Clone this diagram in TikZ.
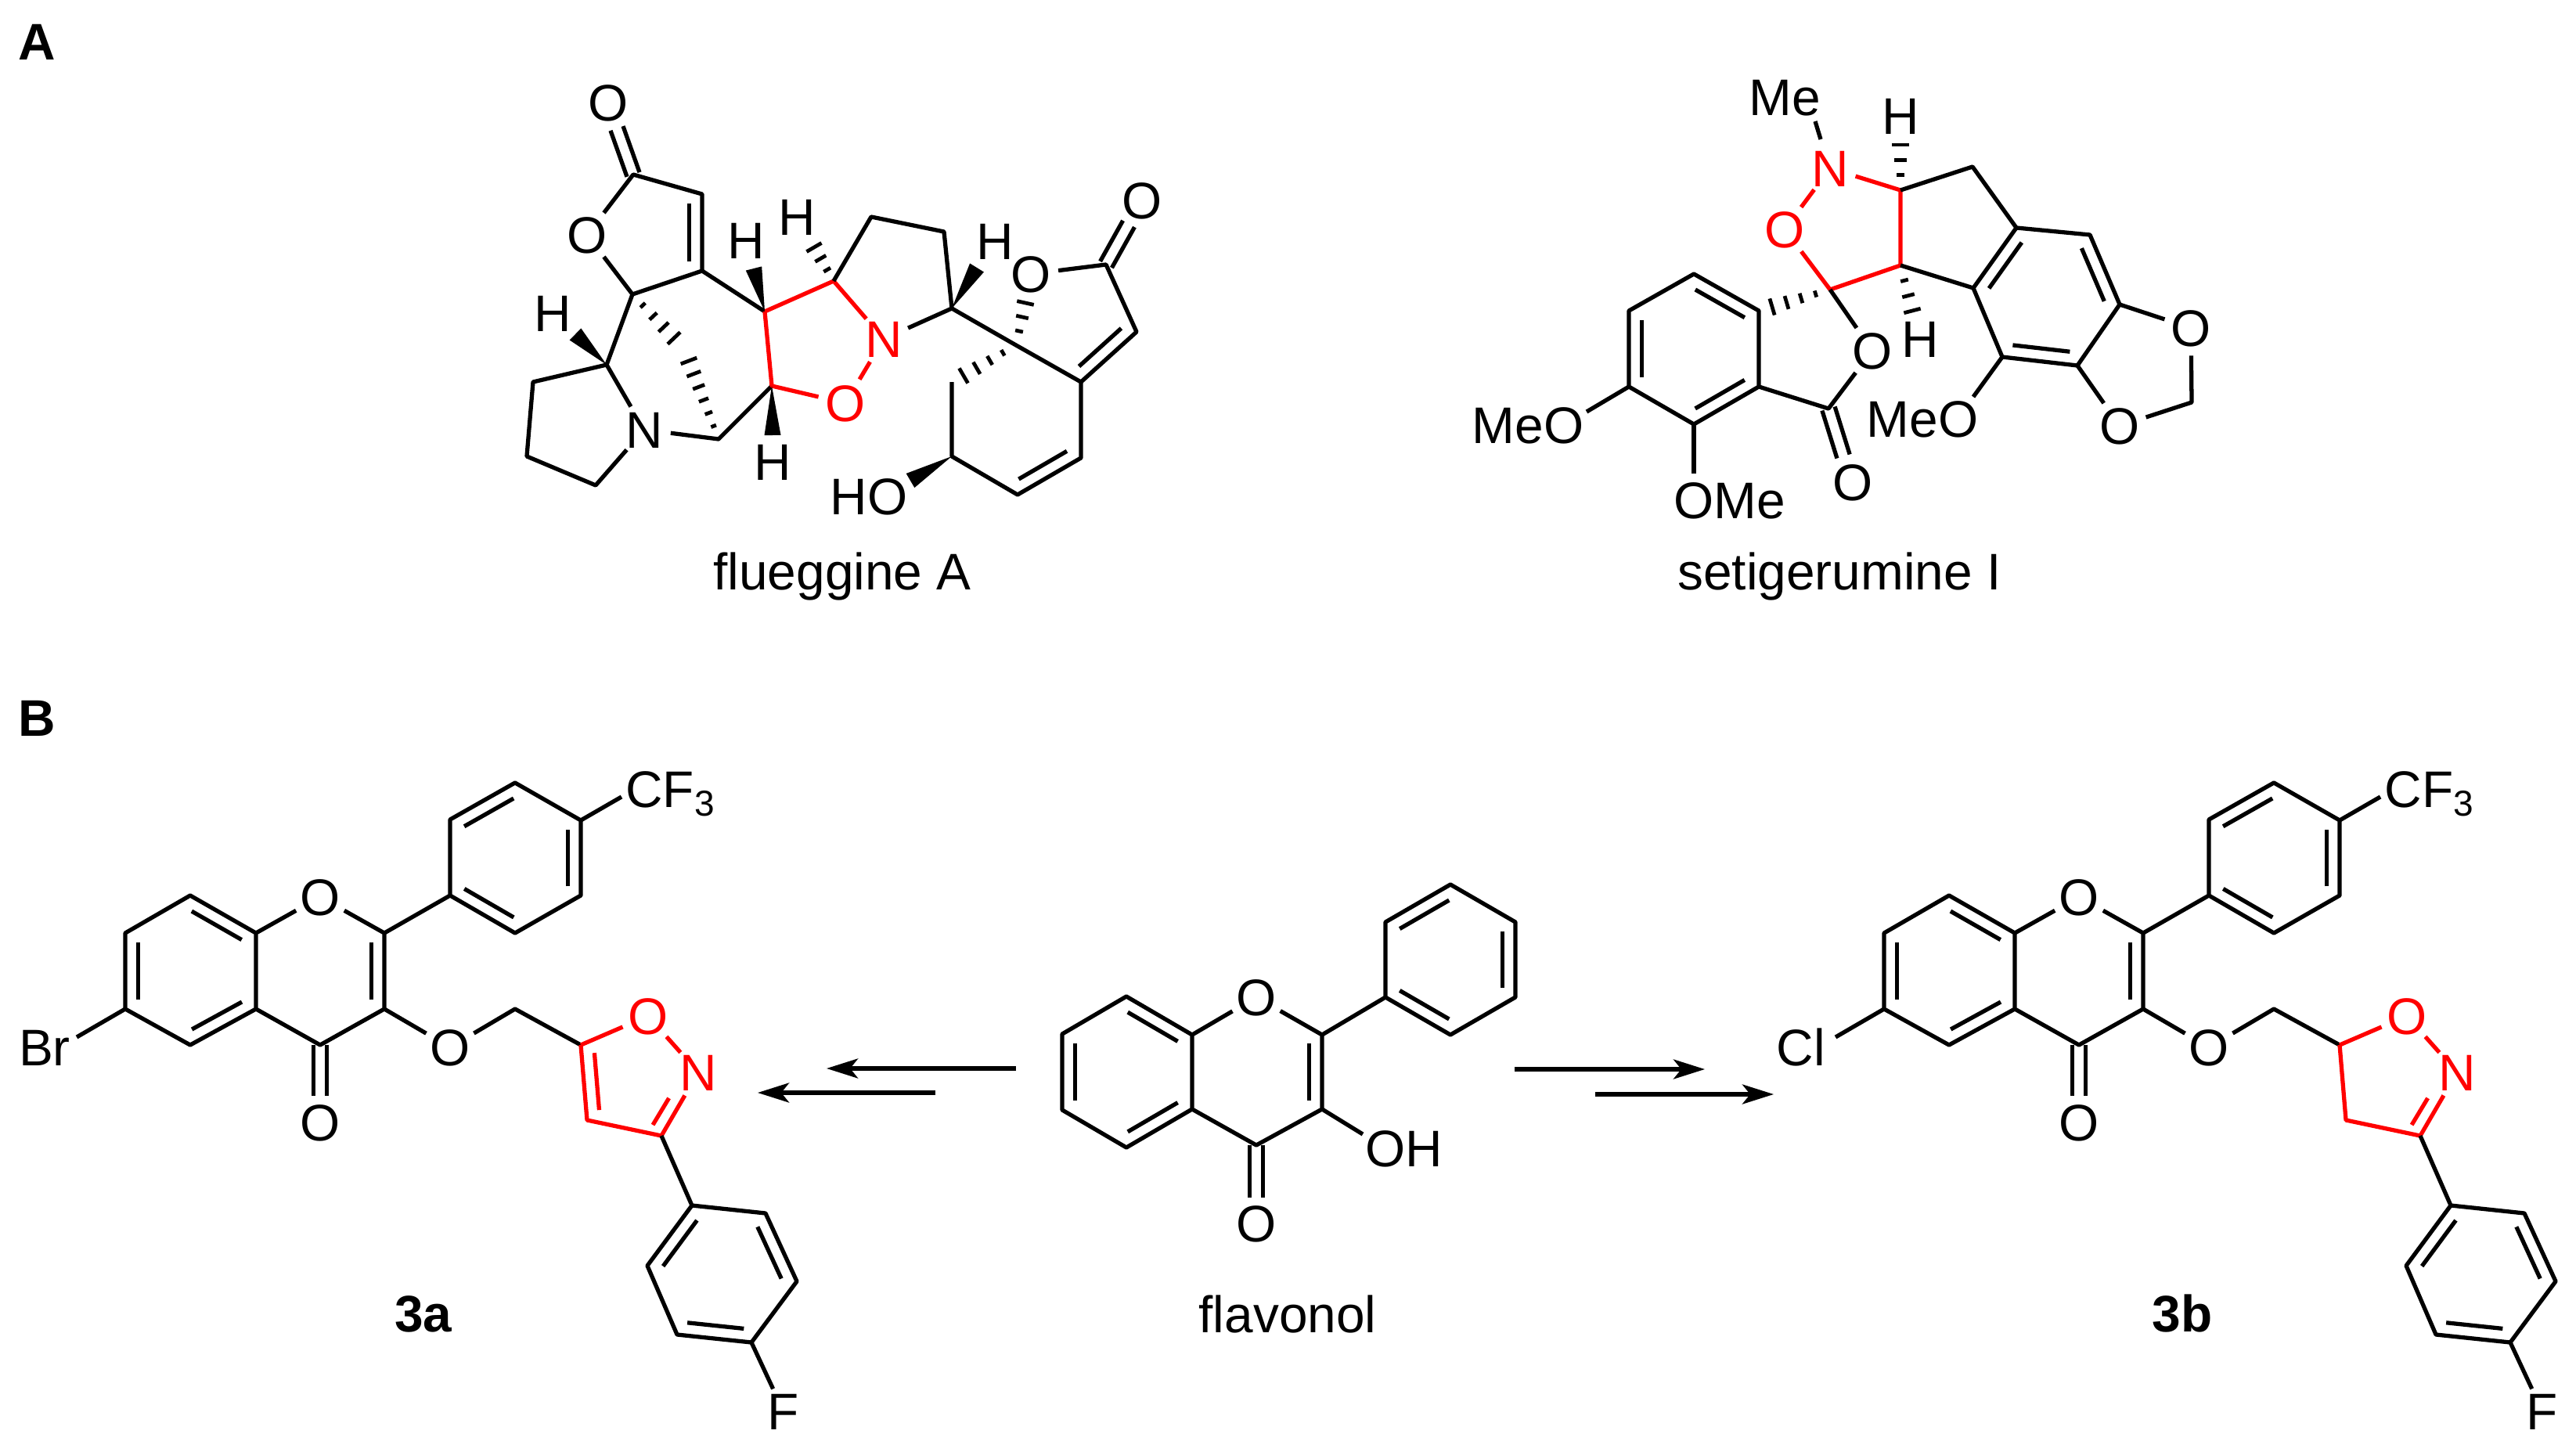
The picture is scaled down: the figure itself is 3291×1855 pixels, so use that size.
\documentclass[tikz,border=0pt]{standalone}
\usepackage{fontspec}
\setmainfont{Liberation Sans}
\usepackage{tikz}
\usetikzlibrary{calc,arrows.meta}
\tikzstyle{bond} = [line width=1.5pt, line join=round]
\tikzstyle{redbond} = [bond, red]
\tikzstyle{hashstroke} = [line width=1.35pt]
\tikzstyle{atom} = [circle, inner sep=0pt, text height=13.4pt, text depth=0pt]
\tikzstyle{redatom} = [atom, text=red]
\tikzstyle{lbl} = [inner sep=0pt, text height=13.4pt, text depth=0pt]
\tikzstyle{capname} = [inner sep=0pt, anchor=base]
\tikzstyle{arrow} = [line width=1.5pt, -{Stealth[length=.4cm,width=.25cm,inset=.1cm]}]
\newcommand{\innerbond}[3][black]{%
  \draw[bond, #1] ($(#2)!.12!(#3)!.165cm!90:(#3)$) -- ($(#3)!.12!(#2)!.165cm!-90:(#2)$);}
\newcommand{\twobond}[2]{%
  \draw[bond] ($(#1)!.085cm!90:(#2)$) -- ($(#2)!.085cm!-90:(#1)$);
  \draw[bond] ($(#1)!.085cm!-90:(#2)$) -- ($(#2)!.085cm!90:(#1)$);}
\newcommand{\wedgebond}[2]{%
  \fill (#1) -- ($(#2)!.105cm!90:(#1)$) -- ($(#2)!.105cm!-90:(#1)$) -- cycle;}
\newcommand{\hashbond}[3]{%
  \foreach \i in {1,...,#3} {
    \pgfmathsetmacro\hfrac{\i/#3}
    \pgfmathsetmacro\hlen{.02+.09*\hfrac}
    \coordinate (hc) at ($(#1)!\hfrac!(#2)$);
    \draw[hashstroke] ($(hc)!\hlen cm!90:(#1)$) -- ($(hc)!\hlen cm!-90:(#1)$);
  }}
\begin{document}
\begin{tikzpicture}[x=0.01cm, y=-0.01cm, every node/.style={font=\fontsize{18.7}{22}\selectfont}]
    \useasboundingbox (0,0) rectangle (3291,1855);
    \node[capname] (panelA) at (47,77) {\textbf{A}};
    \node[capname] (panelB) at (47,940) {\textbf{B}};

    % flueggine A
    \node[atom] (flOa) at (777,131) {O};
    \node[atom] (flOb) at (750,300) {O};
    \node[atom] (flNa) at (823,549) {N};
    \node[redatom] (flNb) at (1129,433) {N};
    \node[redatom] (flOc) at (1080,515) {O};
    \node[atom] (flOd) at (1317,350) {O};
    \node[atom] (flOe) at (1459,256) {O};
    \node[atom] (flHa) at (706,400) {H};
    \node[atom] (flHb) at (953,307) {H};
    \node[atom] (flHc) at (1018,277) {H};
    \node[atom] (flHd) at (1271,308) {H};
    \node[atom] (flHe) at (987,590) {H};
    \node[lbl] (flHO) at (1110,634) {HO};
    \node[capname] (flName) at (1076,753) {flueggine A};
    \coordinate (fl1) at (809,223);
    \coordinate (fl2) at (897,248);
    \coordinate (fl3) at (897,346);
    \coordinate (fl4) at (808,376);
    \coordinate (fl5) at (775,466);
    \coordinate (fl6) at (681,488);
    \coordinate (fl7) at (673,583);
    \coordinate (fl8) at (761,620);
    \coordinate (fl9) at (918,561);
    \coordinate (fl10) at (986,493);
    \coordinate (fl11) at (977,398);
    \coordinate (fl12) at (1065,359);
    \coordinate (fl13) at (1113,277);
    \coordinate (fl14) at (1206,296);
    \coordinate (fl15) at (1216,394);
    \coordinate (fl16) at (1298,441);
    \coordinate (fl17) at (1381,488);
    \coordinate (fl18) at (1452,424);
    \coordinate (fl19) at (1413,338);
    \coordinate (fl20) at (1381,585);
    \coordinate (fl21) at (1300,632);
    \coordinate (fl22) at (1216,583);
    \coordinate (fl23) at (1216,488);
    \coordinate (flOaEnd) at (788,164);
    \coordinate (flOeEnd) at (1442,286);
    \draw[bond] (flOb) -- (fl1) -- (fl2) -- (fl3) -- (fl4) -- (flOb);
    \draw[bond] (fl3) -- (fl11);
    \draw[bond] (fl4) -- (fl5) -- (fl6) -- (fl7) -- (fl8) -- (flNa) -- (fl5);
    \draw[bond] (flNa) -- (fl9) -- (fl10);
    \draw[redbond] (fl11) -- (fl12) -- (flNb) -- (flOc) -- (fl10) -- (fl11);
    \draw[bond] (fl12) -- (fl13) -- (fl14) -- (fl15) -- (flNb);
    \draw[bond] (fl15) -- (fl16) -- (fl17) -- (fl18) -- (fl19) -- (flOd);
    \draw[bond] (fl17) -- (fl20) -- (fl21) -- (fl22) -- (fl23);
    \twobond{fl1}{flOaEnd}
    \twobond{fl19}{flOeEnd}
    \innerbond{fl3}{fl2}
    \innerbond{fl17}{fl18}
    \innerbond{fl21}{fl20}
    \coordinate (flW1) at (735,427);
    \coordinate (flW2) at (963,343);
    \coordinate (flW3) at (1248,342);
    \coordinate (flW4) at (987,556);
    \coordinate (flW5) at (1163,614);
    \wedgebond{fl5}{flW1}
    \wedgebond{fl11}{flW2}
    \wedgebond{fl15}{flW3}
    \wedgebond{fl10}{flW4}
    \wedgebond{fl22}{flW5}
    \coordinate (flH1) at (861,432);
    \coordinate (flH2) at (880,461);
    \coordinate (flH3) at (1040,316);
    \coordinate (flH4) at (1310,387);
    \coordinate (flH5) at (1231,480);
    \hashbond{fl4}{flH1}{4}
    \hashbond{fl9}{flH2}{6}
    \hashbond{fl12}{flH3}{3}
    \hashbond{fl16}{flH4}{3}
    \hashbond{fl16}{flH5}{4}

    % setigerumine I
    \node[lbl] (seMe) at (2280,124) {Me};
    \node[redatom] (seNa) at (2338,215) {N};
    \node[redatom] (seOa) at (2280,293) {O};
    \node[atom] (seOb) at (2392,448) {O};
    \node[atom] (seOc) at (2367,616) {O};
    \node[atom] (seOd) at (2799,419) {O};
    \node[atom] (seOe) at (2708,544) {O};
    \node[atom] (seHa) at (2428,148) {H};
    \node[atom] (seHb) at (2453,433) {H};
    \node[lbl] (seMeOa) at (1952,543) {MeO};
    \node[lbl] (seOMe) at (2210,639) {OMe};
    \node[lbl] (seMeOb) at (2456,535) {MeO};
    \node[capname] (seName) at (2350,753) {setigerumine I};
    \coordinate (se1) at (2428,243);
    \coordinate (se2) at (2520,213);
    \coordinate (se3) at (2576,291);
    \coordinate (se4) at (2670,300);
    \coordinate (se5) at (2708,389);
    \coordinate (se6) at (2654,467);
    \coordinate (se7) at (2558,456);
    \coordinate (se8) at (2521,368);
    \coordinate (se9) at (2428,339);
    \coordinate (se10) at (2338,370);
    \coordinate (se11) at (2336,522);
    \coordinate (se12) at (2247,494);
    \coordinate (se13) at (2247,397);
    \coordinate (se14) at (2164,350);
    \coordinate (se15) at (2081,397);
    \coordinate (se16) at (2081,494);
    \coordinate (se17) at (2164,542);
    \coordinate (se18) at (2800,514);
    \coordinate (seMeEndA) at (2319,155);
    \coordinate (seMeEndB) at (2326,178);
    \coordinate (seMeOaEnd) at (2027,526);
    \coordinate (seOMeEnd) at (2164,605);
    \coordinate (seMeObEnd) at (2521,507);
    \coordinate (seOcEnd) at (2355,583);
    \draw[bond] (seMeEndA) -- (seMeEndB);
    \draw[redbond] (seNa) -- (se1) -- (se9) -- (se10) -- (seOa) -- (seNa);
    \draw[bond] (se1) -- (se2) -- (se3) -- (se4) -- (se5) -- (se6) -- (se7) -- (se8) -- (se3);
    \draw[bond] (se8) -- (se9);
    \draw[bond] (se10) -- (seOb) -- (se11) -- (se12) -- (se13) -- (se14) -- (se15) -- (se16) -- (se17) -- (se12);
    \draw[bond] (se5) -- (seOd) -- (se18) -- (seOe) -- (se6);
    \draw[bond] (se16) -- (seMeOaEnd);
    \draw[bond] (se17) -- (seOMeEnd);
    \draw[bond] (se7) -- (seMeObEnd);
    \twobond{se11}{seOcEnd}
    \innerbond{se3}{se8}
    \innerbond{se5}{se4}
    \innerbond{se7}{se6}
    \innerbond{se13}{se14}
    \innerbond{se15}{se16}
    \innerbond{se17}{se12}
    \coordinate (seH1) at (2428,185);
    \coordinate (seH2) at (2443,397);
    \coordinate (seH3) at (2264,392);
    \hashbond{se1}{seH1}{3}
    \hashbond{se9}{seH2}{3}
    \hashbond{se10}{seH3}{4}

    % 3a and 3b
    \foreach \m/\dx/\hal/\halx/\halEx/\name in {a/0/Br/57/98/3a,b/2247/Cl/54/98/3b} {
    \begin{scope}[shift={(\dx,0)}]
    \node[atom] (O1\m) at (409,1146) {O};
    \node[atom] (O2\m) at (409,1434) {O};
    \node[atom] (O3\m) at (575,1338) {O};
    \node[redatom] (O4\m) at (828,1298) {O};
    \node[redatom] (N1\m) at (892,1370) {N};
    \node[atom] (F1\m) at (1001,1803) {F};
    \node[lbl] (CF\m) at (857,1008) {CF\textsubscript{3}};
    \node[lbl] (Hal\m) at (\halx,1338) {\hal};
    \node[capname] (Name\m) at (541,1701) {\textbf{\name}};
    \coordinate (A1\m) at (327,1192);
    \coordinate (A2\m) at (327,1289);
    \coordinate (A3\m) at (243,1335);
    \coordinate (A4\m) at (160,1289);
    \coordinate (A5\m) at (160,1192);
    \coordinate (A6\m) at (243,1144);
    \coordinate (C2\m) at (491,1192);
    \coordinate (C3\m) at (491,1289);
    \coordinate (C4\m) at (409,1335);
    \coordinate (B1\m) at (575,1144);
    \coordinate (B2\m) at (575,1047);
    \coordinate (B3\m) at (658,1000);
    \coordinate (B4\m) at (742,1048);
    \coordinate (B5\m) at (742,1144);
    \coordinate (B6\m) at (658,1192);
    \coordinate (M\m) at (658,1289);
    \coordinate (R1\m) at (742,1335);
    \coordinate (R2\m) at (750,1431);
    \coordinate (R3\m) at (845,1451);
    \coordinate (P1\m) at (884,1540);
    \coordinate (P2\m) at (978,1550);
    \coordinate (P3\m) at (1018,1637);
    \coordinate (P4\m) at (960,1715);
    \coordinate (P5\m) at (865,1705);
    \coordinate (P6\m) at (827,1617);
    \coordinate (O2End\m) at (409,1400);
    \coordinate (CFEnd\m) at (794,1018);
    \coordinate (HalEnd\m) at (\halEx,1325);
    \coordinate (N1End\m) at (872,1406);
    \end{scope}
    \draw[bond] (A1\m) -- (A2\m) -- (A3\m) -- (A4\m) -- (A5\m) -- (A6\m) -- (A1\m) -- (O1\m) -- (C2\m) -- (C3\m) -- (C4\m) -- (A2\m);
    \draw[bond] (C2\m) -- (B1\m) -- (B2\m) -- (B3\m) -- (B4\m) -- (B5\m) -- (B6\m) -- (B1\m);
    \draw[bond] (B4\m) -- (CFEnd\m);
    \draw[bond] (A4\m) -- (HalEnd\m);
    \draw[bond] (C3\m) -- (O3\m) -- (M\m) -- (R1\m);
    \draw[redbond] (R1\m) -- (O4\m) -- (N1\m) -- (R3\m) -- (R2\m) -- (R1\m);
    \draw[bond] (R3\m) -- (P1\m) -- (P2\m) -- (P3\m) -- (P4\m) -- (P5\m) -- (P6\m) -- (P1\m);
    \draw[bond] (P4\m) -- (F1\m);
    \twobond{C4\m}{O2End\m}
    \innerbond{A1\m}{A6\m}
    \innerbond{A5\m}{A4\m}
    \innerbond{A3\m}{A2\m}
    \innerbond{C3\m}{C2\m}
    \innerbond{B3\m}{B2\m}
    \innerbond{B1\m}{B6\m}
    \innerbond{B5\m}{B4\m}
    \innerbond{P1\m}{P6\m}
    \innerbond{P5\m}{P4\m}
    \innerbond{P3\m}{P2\m}
    \innerbond[red]{R3\m}{N1End\m}
    }
    \innerbond[red]{R1a}{R2a}

    % flavonol
    \node[atom] (fvOa) at (1605,1274) {O};
    \node[atom] (fvOb) at (1605,1563) {O};
    \node[lbl] (fvOH) at (1794,1467) {OH};
    \node[capname] (fvName) at (1645,1702) {flavonol};
    \coordinate (fv1) at (1523,1322);
    \coordinate (fv2) at (1523,1417);
    \coordinate (fv3) at (1439,1466);
    \coordinate (fv4) at (1357,1418);
    \coordinate (fv5) at (1357,1321);
    \coordinate (fv6) at (1439,1273);
    \coordinate (fv7) at (1689,1322);
    \coordinate (fv8) at (1689,1417);
    \coordinate (fv9) at (1605,1463);
    \coordinate (fv10) at (1770,1274);
    \coordinate (fv11) at (1770,1178);
    \coordinate (fv12) at (1853,1130);
    \coordinate (fv13) at (1936,1178);
    \coordinate (fv14) at (1936,1274);
    \coordinate (fv15) at (1853,1322);
    \coordinate (fvObEnd) at (1605,1530);
    \coordinate (fvOHEnd) at (1741,1449);
    \draw[bond] (fv1) -- (fv2) -- (fv3) -- (fv4) -- (fv5) -- (fv6) -- (fv1) -- (fvOa) -- (fv7) -- (fv8) -- (fv9) -- (fv2);
    \draw[bond] (fv7) -- (fv10) -- (fv11) -- (fv12) -- (fv13) -- (fv14) -- (fv15) -- (fv10);
    \draw[bond] (fv8) -- (fvOHEnd);
    \twobond{fv9}{fvObEnd}
    \innerbond{fv1}{fv6}
    \innerbond{fv5}{fv4}
    \innerbond{fv3}{fv2}
    \innerbond{fv8}{fv7}
    \innerbond{fv12}{fv11}
    \innerbond{fv10}{fv15}
    \innerbond{fv14}{fv13}

    % arrows
    \coordinate (arLa) at (1298,1365);
    \coordinate (arLb) at (1056,1365);
    \coordinate (arLc) at (1195,1396);
    \coordinate (arLd) at (968,1396);
    \coordinate (arRa) at (1935,1366);
    \coordinate (arRb) at (2178,1366);
    \coordinate (arRc) at (2038,1398);
    \coordinate (arRd) at (2266,1398);
    \draw[arrow] (arLa) -- (arLb);
    \draw[arrow] (arLc) -- (arLd);
    \draw[arrow] (arRa) -- (arRb);
    \draw[arrow] (arRc) -- (arRd);
\end{tikzpicture}
\end{document}
